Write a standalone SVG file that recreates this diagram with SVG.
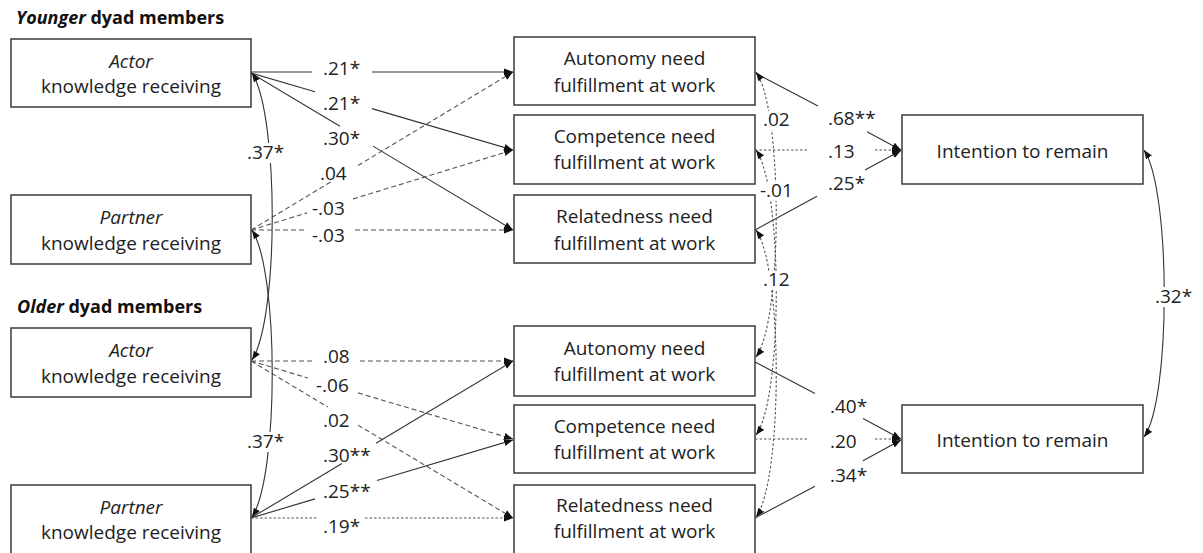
<svg xmlns="http://www.w3.org/2000/svg" width="1203" height="553" viewBox="0 0 1203 553">
<style>
.box{fill:#fff;stroke:#3a3a3a;stroke-width:1.5}
.t{font-family:"Open Sans","Liberation Sans",sans-serif;font-size:19px;fill:#222;text-anchor:middle}
.i{font-style:italic}
.lbl{font-family:"Open Sans","Liberation Sans",sans-serif;font-size:19px;fill:#222}
.h{font-family:"Open Sans","Liberation Sans",sans-serif;font-size:18px;font-weight:bold;fill:#111}
.s{fill:none;stroke:#333;stroke-width:1.1}
.d{fill:none;stroke:#555;stroke-width:1.1;stroke-dasharray:5 3}
.o{fill:none;stroke:#555;stroke-width:1.1;stroke-dasharray:2.5 2}
.gap{fill:#fff}
</style>
<defs>
<marker id="ah" markerWidth="10" markerHeight="8" refX="9" refY="4" orient="auto-start-reverse" markerUnits="userSpaceOnUse"><path d="M0,0.5 L9,4 L0,7.5z" fill="#111"/></marker>
</defs>
<rect x="0" y="0" width="1203" height="553" fill="#fff"/>

<g id="titles">
<text class="h" x="16" y="24"><tspan font-style="italic">Younger</tspan> dyad members</text>
<text class="h" x="17" y="313"><tspan font-style="italic">Older</tspan> dyad members</text>
</g>

<g id="y-actor"><rect class="box" x="11" y="39" width="240" height="68"/><text class="t i" x="131" y="68">Actor</text><text class="t" x="131" y="93">knowledge receiving</text></g>
<g id="y-partner"><rect class="box" x="11" y="195" width="240" height="69"/><text class="t i" x="131" y="224">Partner</text><text class="t" x="131" y="250">knowledge receiving</text></g>
<g id="o-actor"><rect class="box" x="11" y="328" width="240" height="69"/><text class="t i" x="131" y="357">Actor</text><text class="t" x="131" y="383">knowledge receiving</text></g>
<g id="o-partner"><rect class="box" x="11" y="485" width="240" height="72"/><text class="t i" x="131" y="514">Partner</text><text class="t" x="131" y="539">knowledge receiving</text></g>

<g id="y-autonomy"><rect class="box" x="514" y="37" width="241" height="68"/><text class="t" x="634.5" y="65">Autonomy need</text><text class="t" x="634.5" y="92">fulfillment at work</text></g>
<g id="y-competence"><rect class="box" x="514" y="115" width="241" height="69"/><text class="t" x="634.5" y="143">Competence need</text><text class="t" x="634.5" y="169">fulfillment at work</text></g>
<g id="y-relatedness"><rect class="box" x="514" y="195" width="241" height="68"/><text class="t" x="634.5" y="223">Relatedness need</text><text class="t" x="634.5" y="250">fulfillment at work</text></g>
<g id="o-autonomy"><rect class="box" x="514" y="326" width="241" height="70"/><text class="t" x="634.5" y="355">Autonomy need</text><text class="t" x="634.5" y="381">fulfillment at work</text></g>
<g id="o-competence"><rect class="box" x="514" y="405" width="241" height="68"/><text class="t" x="634.5" y="433">Competence need</text><text class="t" x="634.5" y="459">fulfillment at work</text></g>
<g id="o-relatedness"><rect class="box" x="514" y="485" width="241" height="72"/><text class="t" x="634.5" y="512">Relatedness need</text><text class="t" x="634.5" y="538">fulfillment at work</text></g>

<g id="y-intention"><rect class="box" x="902" y="115" width="241" height="69"/><text class="t" x="1022.5" y="158">Intention to remain</text></g>
<g id="o-intention"><rect class="box" x="902" y="405" width="241" height="68"/><text class="t" x="1022.5" y="447">Intention to remain</text></g>

<g id="connectors">
<path class="s" d="M251,72 L312,72 M372,72 L513,72" marker-end="url(#ah)"/>
<path class="s" d="M251,73 L315,91.8 M372,108.6 L513,150" marker-end="url(#ah)"/>
<path class="s" d="M251,73 L340,126.3 M373,146.1 L513,230" marker-end="url(#ah)"/>
<path class="d" d="M251,230 L332,181.2 M358,165.5 L513,72" marker-end="url(#ah)"/>
<path class="d" d="M251,230 L307,212.9 M353,198.9 L513,150" marker-end="url(#ah)"/>
<path class="d" d="M251,230 L305,230 M355,230 L513,230" marker-end="url(#ah)"/>

<path class="d" d="M251,361 L312,361 M360,361 L513,361" marker-end="url(#ah)"/>
<path class="d" d="M251,361 L308,378 M358,392.9 L513,439" marker-end="url(#ah)"/>
<path class="d" d="M251,361 L328,407.1 M358,425.1 L513,518" marker-end="url(#ah)"/>
<path class="s" d="M251,518 L342,463.5 M376,443.2 L513,361" marker-end="url(#ah)"/>
<path class="s" d="M251,518 L315,498.9 M377,480.5 L513,440" marker-end="url(#ah)"/>
<path class="o" d="M251,518 L317,518 M365,518 L513,518" marker-end="url(#ah)"/>

<path class="s" d="M755,73 L818,106 M867,131.7 L901,150" marker-end="url(#ah)"/>
<path class="o" d="M755,150 L807,150 M875,150 L901,150" marker-end="url(#ah)"/>
<path class="s" d="M755,230 L817,196.3 M865,170.1 L901,150.5" marker-end="url(#ah)"/>
<path class="s" d="M755,362 L815,393.4 M863,418.6 L901,439" marker-end="url(#ah)"/>
<path class="o" d="M755,439 L807,439 M875,439 L901,439" marker-end="url(#ah)"/>
<path class="s" d="M755,518 L815,486.2 M863,460.7 L901,440" marker-end="url(#ah)"/>

<path class="s" d="M252,73 C279,115 279,318 252,360" marker-start="url(#ah)" marker-end="url(#ah)"/>
<path class="s" d="M252,230 C279,272 279,475 252,517" marker-start="url(#ah)" marker-end="url(#ah)"/>
<path class="o" d="M756,72 C783,110 783,320 756,357" marker-start="url(#ah)" marker-end="url(#ah)"/>
<path class="o" d="M756,150 C783,188 783,398 756,435" marker-start="url(#ah)" marker-end="url(#ah)"/>
<path class="o" d="M756,230 C783,268 783,480 756,517" marker-start="url(#ah)" marker-end="url(#ah)"/>
<path class="s" d="M1144,150 C1171,190 1171,400 1144,437" marker-start="url(#ah)" marker-end="url(#ah)"/>
</g>

<g id="labels">
<rect class="gap" x="245" y="143" width="42" height="20"/>
<rect class="gap" x="245" y="432" width="42" height="20"/>
<rect class="gap" x="761" y="111" width="31" height="19"/>
<rect class="gap" x="758" y="182" width="34" height="19"/>
<rect class="gap" x="761" y="271" width="31" height="19"/>
<rect class="gap" x="1153" y="287" width="44" height="20"/>
<text class="lbl" x="323" y="75">.21*</text>
<text class="lbl" x="323" y="110">.21*</text>
<text class="lbl" x="323" y="145">.30*</text>
<text class="lbl" x="320" y="180">.04</text>
<text class="lbl" x="312" y="215">-.03</text>
<text class="lbl" x="312" y="242">-.03</text>
<text class="lbl" x="247" y="159">.37*</text>
<text class="lbl" x="323" y="363">.08</text>
<text class="lbl" x="316" y="392">-.06</text>
<text class="lbl" x="323" y="427">.02</text>
<text class="lbl" x="323" y="462">.30**</text>
<text class="lbl" x="323" y="498">.25**</text>
<text class="lbl" x="323" y="533">.19*</text>
<text class="lbl" x="247" y="448">.37*</text>
<text class="lbl" x="763" y="126">.02</text>
<text class="lbl" x="760" y="197">-.01</text>
<text class="lbl" x="763" y="286">.12</text>
<text class="lbl" x="828" y="125">.68**</text>
<text class="lbl" x="828" y="158">.13</text>
<text class="lbl" x="828" y="190">.25*</text>
<text class="lbl" x="830" y="413">.40*</text>
<text class="lbl" x="830" y="448">.20</text>
<text class="lbl" x="830" y="482">.34*</text>
<text class="lbl" x="1155" y="303">.32*</text>
</g>
</svg>
